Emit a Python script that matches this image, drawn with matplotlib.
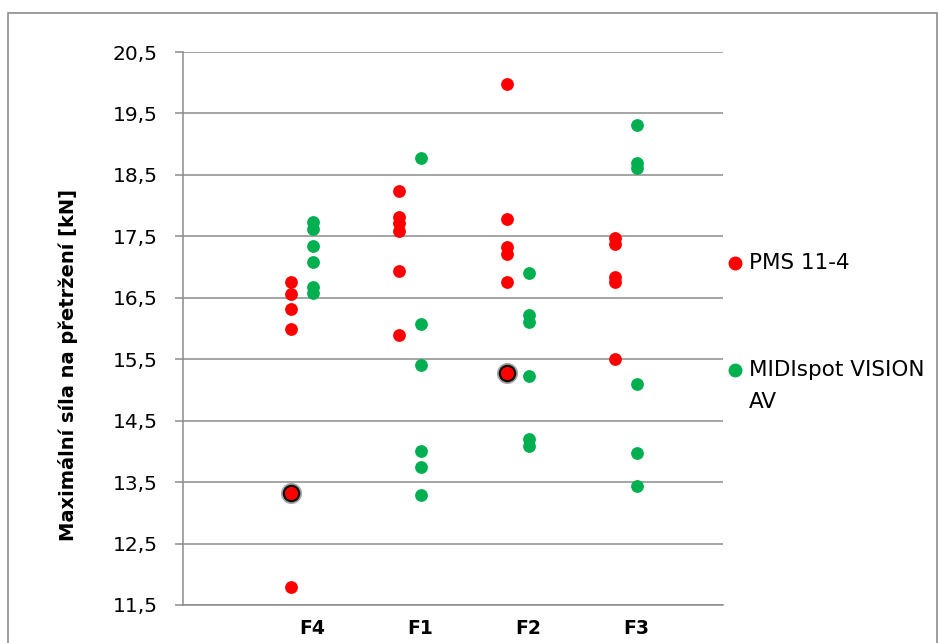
import matplotlib
matplotlib.use('Agg')
import matplotlib.pyplot as plt
from matplotlib.lines import Line2D
from matplotlib.patches import Rectangle

plt.rcParams['font.family'] = ['DejaVu Sans']

categories = ['F4', 'F1', 'F2', 'F3']
# values, kN
pms = [
    [16.75, 16.56, 16.31, 16.00, 13.32, 11.80],
    [18.24, 17.81, 17.71, 17.59, 16.93, 15.89],
    [19.98, 17.78, 17.32, 17.21, 16.75, 15.27],
    [17.47, 17.38, 16.84, 16.76, 15.50],
]
midi = [
    [17.74, 17.62, 17.34, 17.08, 16.68, 16.57],
    [18.77, 16.07, 15.41, 14.00, 13.75, 13.29],
    [16.91, 16.22, 16.11, 15.22, 14.20, 14.09],
    [19.31, 18.70, 18.61, 15.09, 13.98, 13.43],
]
# highlighted points (category index, value)
outliers = [(0, 13.32), (2, 15.27)]

red = '#ff0000'
green = '#00b050'
grey = '#8c8c8c'

fig = plt.figure(figsize=(9.39, 6.43), dpi=100)
ax = fig.add_axes([183/939, 1 - 605/643, (723-183)/939, (605-52)/643])

for i, vals in enumerate(pms):
    ax.scatter([i + 1] * len(vals), vals, s=85, color=red, zorder=3, linewidths=0)
for i, vals in enumerate(midi):
    ax.scatter([i + 1.2] * len(vals), vals, s=85, color=green, zorder=3, linewidths=0)

# dark halo round the marked points
for i, v in outliers:
    ax.scatter([i + 1], [v], s=230, color='black', alpha=0.35, zorder=2, linewidths=0)
    ax.scatter([i + 1], [v], s=160, color='black', alpha=0.9, zorder=2, linewidths=0)
    ax.scatter([i + 1], [v], s=85, color=red, zorder=4, linewidths=0)

ax.set_xlim(0, 5)
ax.set_ylim(11.5, 20.5)
yt = [11.5 + k for k in range(10)]
ax.set_yticks(yt)
ax.set_yticklabels([('%.1f' % t).replace('.', ',') for t in yt], fontsize=14.5)
ax.set_xticks([i + 1.2 for i in range(len(categories))])
ax.set_xticklabels(categories, fontsize=13.5, fontweight='bold')
ax.tick_params(axis='x', length=0, pad=10)
ax.tick_params(axis='y', length=6, color=grey, width=1.1, pad=12)

ax.grid(axis='y', color=grey, linewidth=1.1)
ax.set_axisbelow(True)
for s in ['top', 'right']:
    ax.spines[s].set_visible(False)
for s in ['left', 'bottom']:
    ax.spines[s].set_color(grey)
    ax.spines[s].set_linewidth(1.1)

fig.text(68/939, 1 - 365/643, 'Maximální síla na přetržení [kN]', fontsize=14, fontweight='bold',
         rotation=90, ha='center', va='center')

# legend drawn by hand so the marker sits on the first line
fig.add_artist(Line2D([735/939], [1 - 263/643], marker='o', color=red, markersize=9, linestyle='none'))
fig.text(749/939, 1 - 263/643, 'PMS 11-4', fontsize=15.5, va='center', ha='left')
fig.add_artist(Line2D([735/939], [1 - 370/643], marker='o', color=green, markersize=9, linestyle='none'))
fig.text(749/939, 1 - 370/643, 'MIDIspot VISION', fontsize=15.5, va='center', ha='left')
fig.text(749/939, 1 - 402/643, 'AV', fontsize=15.5, va='center', ha='left')

# outer chart border
fig.add_artist(Rectangle((8/939, -0.05), (937-8)/939, 1.05 - 13/643, transform=fig.transFigure,
                         fill=False, edgecolor=grey, linewidth=1.2))

fig.savefig('out.png', dpi=100)
